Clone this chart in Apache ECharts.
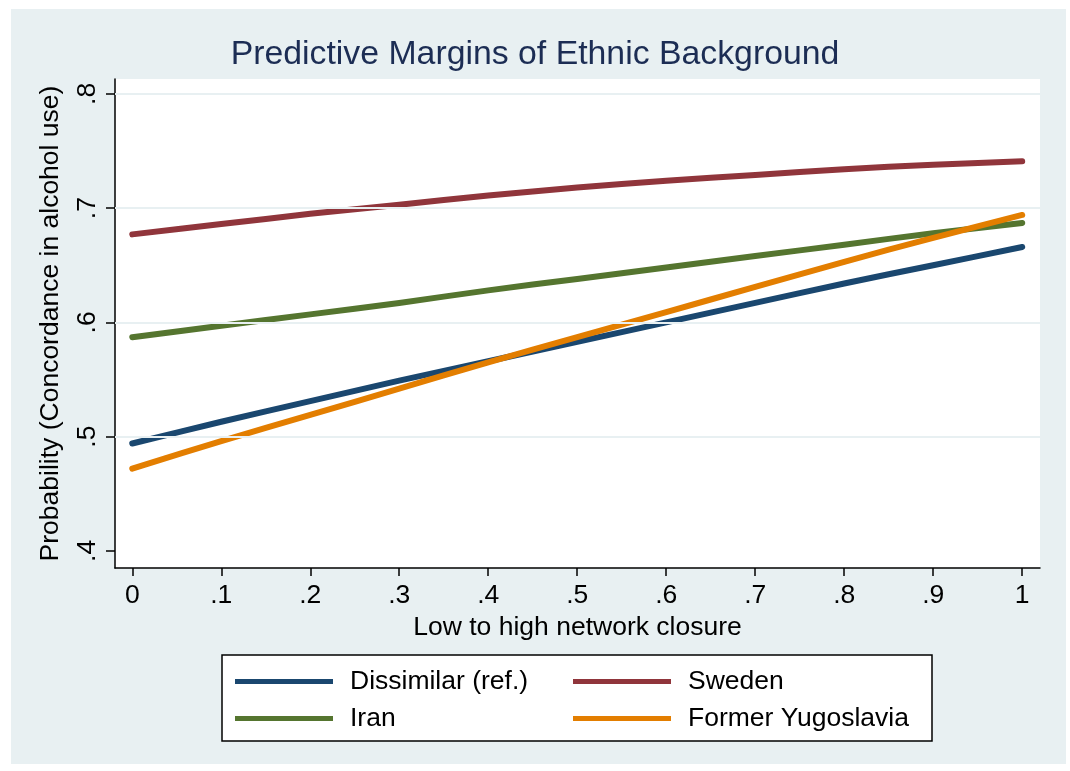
<!DOCTYPE html>
<html>
<head>
<meta charset="utf-8">
<script src="https://cdn.jsdelivr.net/npm/echarts@6/dist/echarts.min.js"></script>
<style>
html,body{margin:0;padding:0;background:#fff;}
#chart{width:1070px;height:771px;}
</style>
</head>
<body>
<div id="chart"></div>
<script>
// ---- data ----
const xValues = [0, 0.1, 0.2, 0.3, 0.4, 0.5, 0.6, 0.7, 0.8, 0.9, 1];
const dissimilar = [0.494, 0.513, 0.531, 0.549, 0.566, 0.583, 0.600, 0.617, 0.634, 0.650, 0.666];
const sweden     = [0.677, 0.686, 0.695, 0.703, 0.711, 0.718, 0.724, 0.729, 0.734, 0.738, 0.741];
const iran       = [0.587, 0.597, 0.607, 0.617, 0.628, 0.638, 0.648, 0.658, 0.668, 0.678, 0.687];
const yugoslavia = [0.472, 0.496, 0.519, 0.542, 0.565, 0.587, 0.609, 0.631, 0.653, 0.674, 0.694];
const xTicks = [0, 0.1, 0.2, 0.3, 0.4, 0.5, 0.6, 0.7, 0.8, 0.9, 1];
const yTicks = [0.4, 0.5, 0.6, 0.7, 0.8];
const gridValues = [0.5, 0.6, 0.7, 0.8];
const seriesNames = ['Dissimilar (ref.)', 'Sweden', 'Iran', 'Former Yugoslavia'];
const seriesColors = ['#1A476F', '#90353B', '#55752F', '#E37E00'];

const fmt = v => v === 0 ? '0' : (v === 1 ? '1' : String(v).replace(/^0/, ''));
const pairs = arr => xValues.map((x, i) => [x, arr[i]]);
const FONT = 'Liberation Sans, Arial, Helvetica, sans-serif';
const FS = 26.5;

const chart = echarts.init(document.getElementById('chart'), null, {renderer: 'canvas'});

const legendPos = [
  {left: 235, top: 668},
  {left: 573, top: 668},
  {left: 235, top: 705},
  {left: 573, top: 705}
];

const option = {
  backgroundColor: '#ffffff',
  animation: false,
  graphic: [
    {type: 'rect', z: -10, shape: {x: 11, y: 9, width: 1055, height: 755}, style: {fill: '#E8F0F2'}},
    {type: 'rect', z: 5, shape: {x: 222, y: 655, width: 710, height: 86}, style: {fill: '#ffffff', stroke: '#000', lineWidth: 1.5}}
  ],
  title: {
    text: 'Predictive Margins of Ethnic Background',
    left: 'center',
    top: 33,
    textStyle: {fontFamily: FONT, fontSize: 33.8, fontWeight: 'normal', color: '#1C2D54'}
  },
  legend: seriesNames.map((nm, i) => ({
    data: [nm],
    left: legendPos[i].left,
    top: legendPos[i].top,
    padding: 0,
    z: 10,
    icon: 'rect',
    itemWidth: 98,
    itemHeight: 5,
    selectedMode: false,
    textStyle: {fontFamily: FONT, fontSize: FS, color: '#000', padding: [0, 0, 0, 12]}
  })),
  grid: {
    left: 115, right: 30, top: 79, bottom: 203,
    show: true, backgroundColor: '#ffffff', borderWidth: 0
  },
  xAxis: {
    type: 'value',
    min: -0.0194, max: 1.02,
    name: 'Low to high network closure',
    nameLocation: 'middle',
    nameGap: 42,
    nameTextStyle: {fontFamily: FONT, fontSize: FS, color: '#000'},
    axisLine: {show: true, onZero: false, lineStyle: {color: '#000', width: 1.5}},
    axisTick: {show: true, length: 8, lineStyle: {color: '#000', width: 1.5}, customValues: xTicks},
    axisLabel: {customValues: xTicks, formatter: fmt, margin: 14, fontFamily: FONT, fontSize: FS, color: '#000'},
    splitLine: {show: false}
  },
  yAxis: {
    type: 'value',
    min: 0.385, max: 0.813,
    name: 'Probability (Concordance in alcohol use)',
    nameLocation: 'middle',
    nameGap: 51,
    nameTextStyle: {fontFamily: FONT, fontSize: FS, color: '#000'},
    axisLine: {show: true, onZero: false, lineStyle: {color: '#000', width: 1.5}},
    axisTick: {show: true, length: 9, lineStyle: {color: '#000', width: 1.5}, customValues: yTicks},
    axisLabel: {customValues: yTicks, formatter: fmt, rotate: 90, margin: 14, fontFamily: FONT, fontSize: FS, color: '#000'},
    splitLine: {show: false}
  },
  series: [
    {
      type: 'line', name: '__grid', data: [], z: 1, silent: true,
      markLine: {
        silent: true, symbol: 'none', label: {show: false},
        lineStyle: {color: '#E8F0F2', width: 2, type: 'solid'},
        data: gridValues.map(v => ({yAxis: v}))
      }
    }
  ].concat([dissimilar, sweden, iran, yugoslavia].map((arr, i) => ({
    type: 'line',
    name: seriesNames[i],
    data: pairs(arr),
    smooth: 0.3,
    showSymbol: false,
    symbol: 'none',
    z: 3,
    color: seriesColors[i],
    itemStyle: {color: seriesColors[i]},
    lineStyle: {color: seriesColors[i], width: 6, cap: 'round', join: 'round'}
  })))
};
chart.setOption(option);
</script>
</body>
</html>
